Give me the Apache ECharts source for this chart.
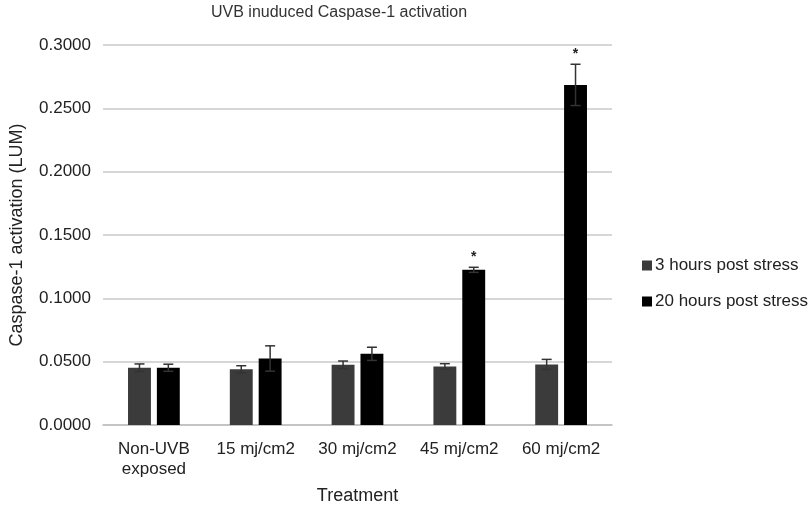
<!DOCTYPE html>
<html>
<head>
<meta charset="utf-8">
<script src="https://cdn.jsdelivr.net/npm/echarts@6/dist/echarts.min.js"></script>
<style>
  html, body { margin: 0; padding: 0; background: #fff; }
  #chart { width: 810px; height: 510px; }
</style>
</head>
<body>
<div id="chart"></div>
<script>
// 数据
const categories = ["Non-UVB\nexposed", "15 mj/cm2", "30 mj/cm2", "45 mj/cm2", "60 mj/cm2"];
const seriesNames = ["3 hours post stress", "20 hours post stress"];
const hours3 = [0.0452, 0.0440, 0.0475, 0.0462, 0.0478];
const hours3Err = [0.0030, 0.0028, 0.0030, 0.0022, 0.0040];
const hours20 = [0.0452, 0.0525, 0.0562, 0.1225, 0.2685];
const hours20Err = [0.0028, 0.0100, 0.0052, 0.0020, 0.0163];
const stars = ["", "", "", "*", "*"];

const BAR_W = 0.225; // 柱宽占类目宽度比例
const BAR_GAP = 0.26;

function errData(vals, errs, marks) {
  return vals.map((v, i) => [i, v - errs[i], v + errs[i], marks ? marks[i] : ""]);
}

function errRender(side) {
  return function (params, api) {
    const idx = api.value(0);
    const band = api.size([1, 0])[0];
    const bw = band * BAR_W;
    const off = side * (bw + bw * BAR_GAP) / 2;
    const lo = api.coord([idx, api.value(1)]);
    const hi = api.coord([idx, api.value(2)]);
    const x = lo[0] + off;
    const cap = 5;
    const style = { stroke: "#333", lineWidth: 1.5 };
    const children = [
      { type: "line", shape: { x1: x, y1: lo[1], x2: x, y2: hi[1] }, style: style },
      { type: "line", shape: { x1: x - cap, y1: hi[1], x2: x + cap, y2: hi[1] }, style: style },
      { type: "line", shape: { x1: x - cap, y1: lo[1], x2: x + cap, y2: lo[1] }, style: style }
    ];
    const mark = api.value(3);
    if (mark) {
      children.push({
        type: "text",
        style: {
          text: mark, x: x, y: hi[1] - 3,
          align: "center", verticalAlign: "bottom",
          fill: "#222", font: "bold 14px Arial"
        }
      });
    }
    return { type: "group", children: children };
  };
}

const myChart = echarts.init(document.getElementById("chart"));
const option = {
  animation: false,
  textStyle: { fontFamily: "Arial, 'Liberation Sans', sans-serif" },
  title: {
    text: "UVB inuduced Caspase-1 activation",
    left: 206,
    top: 0,
    textStyle: { fontSize: 16, fontWeight: "normal", color: "#333" }
  },
  grid: { left: 95, right: 198, top: 45, bottom: 85 },
  legend: {
    orient: "vertical",
    align: "left",
    left: 637,
    top: 252,
    itemWidth: 10,
    itemHeight: 10,
    itemGap: 19,
    icon: "rect",
    textStyle: { fontSize: 17, color: "#222", padding: [0, 0, 0, -2] },
    data: seriesNames
  },
  xAxis: {
    type: "category",
    data: categories,
    name: "Treatment",
    nameLocation: "middle",
    nameGap: 62,
    nameTextStyle: { fontSize: 18, color: "#222" },
    axisLine: { lineStyle: { color: "#bfbfbf", width: 1.5 } },
    axisTick: { show: false },
    axisLabel: { interval: 0, fontSize: 17, color: "#222", margin: 14, lineHeight: 20 }
  },
  yAxis: {
    type: "value",
    min: 0,
    max: 0.3,
    interval: 0.05,
    name: "Caspase-1 activation (LUM)",
    nameLocation: "middle",
    nameGap: 77,
    nameTextStyle: { fontSize: 18, color: "#222" },
    axisLine: { show: false },
    axisTick: { show: false },
    splitLine: { lineStyle: { color: "#c8c8c8", width: 1.5 } },
    axisLabel: {
      fontSize: 17, color: "#222", margin: 12,
      formatter: (v) => v.toFixed(4)
    }
  },
  series: [
    {
      name: seriesNames[0],
      type: "bar",
      data: hours3,
      barWidth: (BAR_W * 100) + "%",
      barGap: (BAR_GAP * 100) + "%",
      itemStyle: { color: "#3b3b3b" }
    },
    {
      name: seriesNames[1],
      type: "bar",
      data: hours20,
      barWidth: (BAR_W * 100) + "%",
      barGap: (BAR_GAP * 100) + "%",
      itemStyle: { color: "#000000" }
    },
    {
      type: "custom",
      renderItem: errRender(-1),
      data: errData(hours3, hours3Err),
      z: 10
    },
    {
      type: "custom",
      renderItem: errRender(1),
      data: errData(hours20, hours20Err, stars),
      z: 10
    }
  ]
};
myChart.setOption(option);
window.addEventListener("resize", () => {
  myChart.resize();
});
</script>
</body>
</html>
